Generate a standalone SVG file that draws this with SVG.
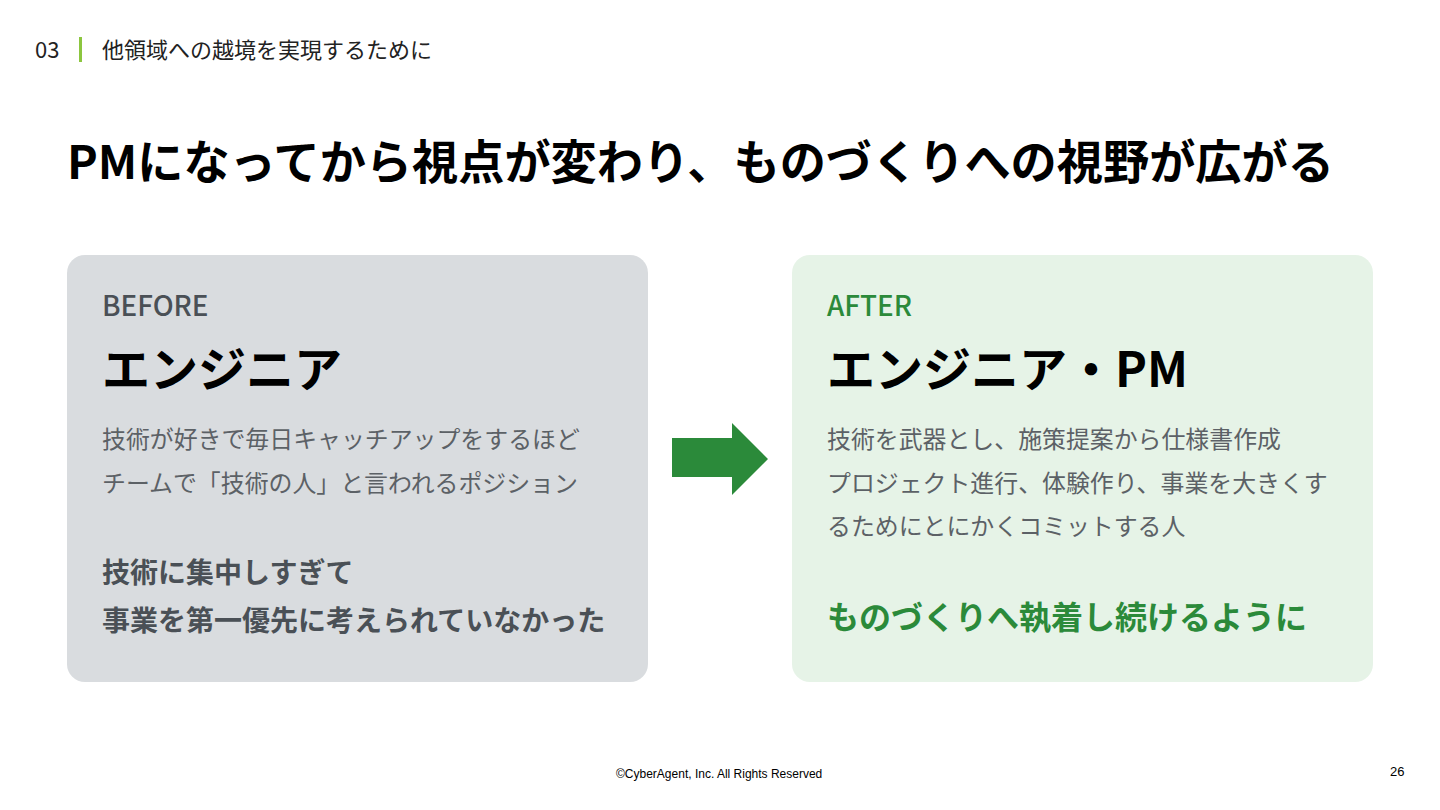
<svg xmlns="http://www.w3.org/2000/svg" width="1440" height="810" viewBox="0 0 1440 810">
<style>
.jp{font-family:"Noto Sans CJK JP","Noto Sans",sans-serif}
.hdr{font-size:22px;fill:#222}
.lbl{font-size:27.8px;font-weight:500}
.role{font-size:48px;font-weight:700;fill:#000}
.body{font-size:23.9px;fill:#5c6166}
.strongG{font-size:28px;font-weight:700;fill:#4a5056}
.strongGr{font-size:32px;font-weight:700;fill:#2b8a3a}
</style>
<rect width="1440" height="810" fill="#fff"/>
<g id="header">
<text class="jp hdr" x="35" y="58">03</text>
<rect x="79" y="37" width="3" height="25" fill="#8cc63f"/>
<text class="jp hdr" x="102" y="58">他領域への越境を実現するために</text>
</g>
<g id="title">
<text class="jp" x="67" y="179" font-size="46.2" font-weight="700" fill="#000">PMになってから視点が変わり、ものづくりへの視野が広がる</text>
</g>
<g id="before">
<rect x="67" y="255" width="581" height="427" rx="18" fill="#d9dcdf"/>
<text class="jp lbl" x="102" y="316" fill="#4a5056">BEFORE</text>
<text class="jp role" x="102" y="387">エンジニア</text>
<text class="jp body" x="102" y="448">技術が好きで毎日キャッチアップをするほど</text>
<text class="jp body" x="102" y="492">チームで「技術の人」と言われるポジション</text>
<text class="jp strongG" x="102" y="583">技術に集中しすぎて</text>
<text class="jp strongG" x="102" y="631">事業を第一優先に考えられていなかった</text>
</g>
<g id="connectors">
<polygon points="672,438 732,438 732,423 768,459 732,495 732,477 672,477" fill="#2b8a3a"/>
</g>
<g id="after">
<rect x="792" y="255" width="581" height="427" rx="18" fill="#e6f3e7"/>
<text class="jp lbl" x="827" y="316" fill="#2b8a3a">AFTER</text>
<text class="jp role" x="827" y="387">エンジニア・PM</text>
<text class="jp body" x="827" y="448">技術を武器とし、施策提案から仕様書作成</text>
<text class="jp body" x="827" y="492">プロジェクト進行、体験作り、事業を大きくす</text>
<text class="jp body" x="827" y="535">るためにとにかくコミットする人</text>
<text class="jp strongGr" x="827" y="629">ものづくりへ執着し続けるように</text>
</g>
<g id="footer">
<text x="616" y="778" font-family="Liberation Sans, Arial, sans-serif" font-size="12" fill="#000">©CyberAgent, Inc. All Rights Reserved</text>
<text x="1390" y="776" font-family="Liberation Sans, Arial, sans-serif" font-size="13" fill="#000">26</text>
</g>
</svg>
